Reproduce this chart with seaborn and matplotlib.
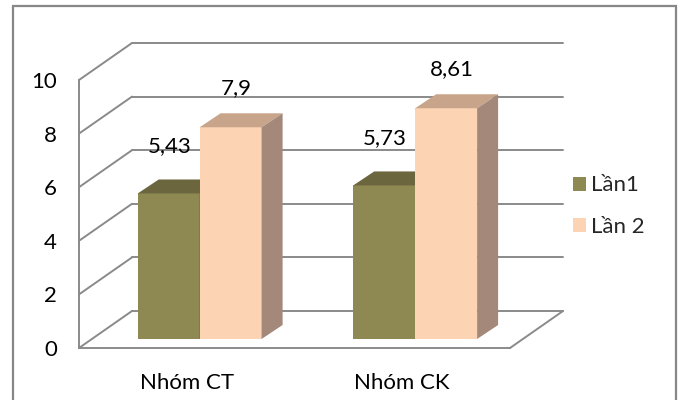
import matplotlib
matplotlib.use("Agg")
import matplotlib.pyplot as plt
import seaborn as sns
import pandas as pd
import numpy as np
from matplotlib.patches import Polygon, Rectangle, Patch
from matplotlib.lines import Line2D
from matplotlib.transforms import ScaledTranslation, IdentityTransform

# ---- data ----
groups = ["Nhóm CT", "Nhóm CK"]
series = ["Lần1", "Lần 2"]
lan1 = [5.43, 5.73]
lan2 = [7.9, 8.61]
labels1 = ["5,43", "5,73"]
labels2 = ["7,9", "8,61"]
yticks = [0, 2, 4, 6, 8, 10]

# ---- style ----
front_colors = ["#8E8952", "#FCD4B3"]
top_colors = ["#6C663F", "#C8A48A"]
side_colors = ["#6A643E", "#A4887A"]
grid_col = "#8A8A8A"
FS = 16

sns.set_theme(style="white")
plt.rcParams['font.family'] = ['Lato', 'DejaVu Sans']

W, H, DPI = 682, 400, 100
fig = plt.figure(figsize=(W / DPI, H / DPI), dpi=DPI)
fig.patch.set_facecolor("white")

x_left, x_right = 79, 510
y_zero, y_top = 348, 80
ax = fig.add_axes([x_left / W, (H - y_zero) / H, (x_right - x_left) / W, (y_zero - y_top) / H])
ax.set_facecolor("none")

df = pd.DataFrame({
    "group": groups * 2,
    "series": [series[0]] * len(groups) + [series[1]] * len(groups),
    "value": lan1 + lan2,
})

sns.barplot(data=df, x="group", y="value", hue="series", order=groups, hue_order=series,
            palette=front_colors, width=0.575, saturation=1, ax=ax, legend=False,
            linewidth=0, edgecolor="none")

ax.set_xlim(-0.5, 1.5)
ax.set_ylim(0, 10)
ax.set_xlabel("")
ax.set_ylabel("")

# axes: spines & ticks
for s in ["top", "right"]:
    ax.spines[s].set_visible(False)
for s in ["left", "bottom"]:
    ax.spines[s].set_color(grid_col)
    ax.spines[s].set_linewidth(1.4)
ax.set_yticks(yticks)
ax.set_yticklabels([str(v) for v in yticks])
ax.tick_params(axis="y", direction="out", length=5, width=1.2, color=grid_col,
               pad=11, labelsize=FS, labelcolor="#000000")
ax.set_xticks(range(len(groups)))
ax.set_xticklabels(groups)
ax.set_xticks([-0.5, 0.5, 1.5], minor=True)
ax.tick_params(axis="x", which="major", length=0, pad=18, labelsize=FS, labelcolor="#000000")
ax.tick_params(axis="x", which="minor", direction="out", length=5, width=1.2, color=grid_col)
ax.grid(False)

px = lambda p: p / DPI
wall = np.array([53.0, 37.0])       # depth of back wall in pixels (x right, y up)
bar_shift = (12.9, 9.0)             # bar front face depth offset
bar_depth = np.array([21.0, 14.0])  # bar depth in pixels

def seg(p, q):
    ln = Line2D([p[0], q[0]], [p[1], q[1]], transform=IdentityTransform(),
                color=grid_col, lw=1.4, zorder=0.5, clip_on=False)
    ax.add_line(ln)

# back wall gridlines and diagonals
for v in yticks:
    f_left = ax.transData.transform((-0.5, v))
    f_right = ax.transData.transform((1.5, v))
    b_left = f_left + wall
    b_right = f_right + wall
    seg(f_left, b_left)
    seg(b_left, b_right)
    if v == 0:
        seg(f_right, b_right)

# 3D bars
bar_trans = ax.transData + ScaledTranslation(px(bar_shift[0]), px(bar_shift[1]), fig.dpi_scale_trans)
label_sets = [labels1, labels2]
label_offsets = [(1, 47), (6, 39)]
for hi, cont in enumerate(ax.containers):
    for bi, bar in enumerate(cont):
        bar.set_transform(bar_trans)
        bar.set_zorder(3 + hi)
        bar.set_clip_on(False)
        x0, w, h = bar.get_x(), bar.get_width(), bar.get_height()
        bl = bar_trans.transform((x0, 0))
        br = bar_trans.transform((x0 + w, 0))
        tl = bar_trans.transform((x0, h))
        tr = bar_trans.transform((x0 + w, h))
        top = Polygon([tl, tr, tr + bar_depth, tl + bar_depth], closed=True,
                      transform=IdentityTransform(), facecolor=top_colors[hi],
                      edgecolor="none", zorder=3 + hi, clip_on=False)
        side = Polygon([tr, br, br + bar_depth, tr + bar_depth], closed=True,
                       transform=IdentityTransform(), facecolor=side_colors[hi],
                       edgecolor="none", zorder=3 + hi, clip_on=False)
        ax.add_patch(top)
        ax.add_patch(side)
        ox, oy = label_offsets[hi]
        ax.annotate(label_sets[hi][bi], xy=(x0 + w / 2, h), xycoords=bar_trans,
                    xytext=(ox, oy), textcoords="offset pixels", ha="center", va="center",
                    fontsize=FS, color="#000000", zorder=6, annotation_clip=False)

# legend
handles = [Patch(facecolor=front_colors[0], edgecolor="none", label=series[0]),
           Patch(facecolor=front_colors[1], edgecolor="none", label=series[1])]
fig.legend(handles=handles, loc="center left", bbox_to_anchor=(564 / W, 1 - 206 / H),
           frameon=False, handlelength=0.58, handleheight=0.58, handletextpad=0.25,
           labelspacing=0.95, fontsize=FS, borderaxespad=0)

# outer chart border
fig.add_artist(Rectangle((13 / W, -0.1), (676 - 13) / W, 1 - 6 / H + 0.1,
                         transform=fig.transFigure, fill=False, edgecolor="#878787", lw=1.6))

fig.savefig("out.png", dpi=DPI, facecolor="white")
